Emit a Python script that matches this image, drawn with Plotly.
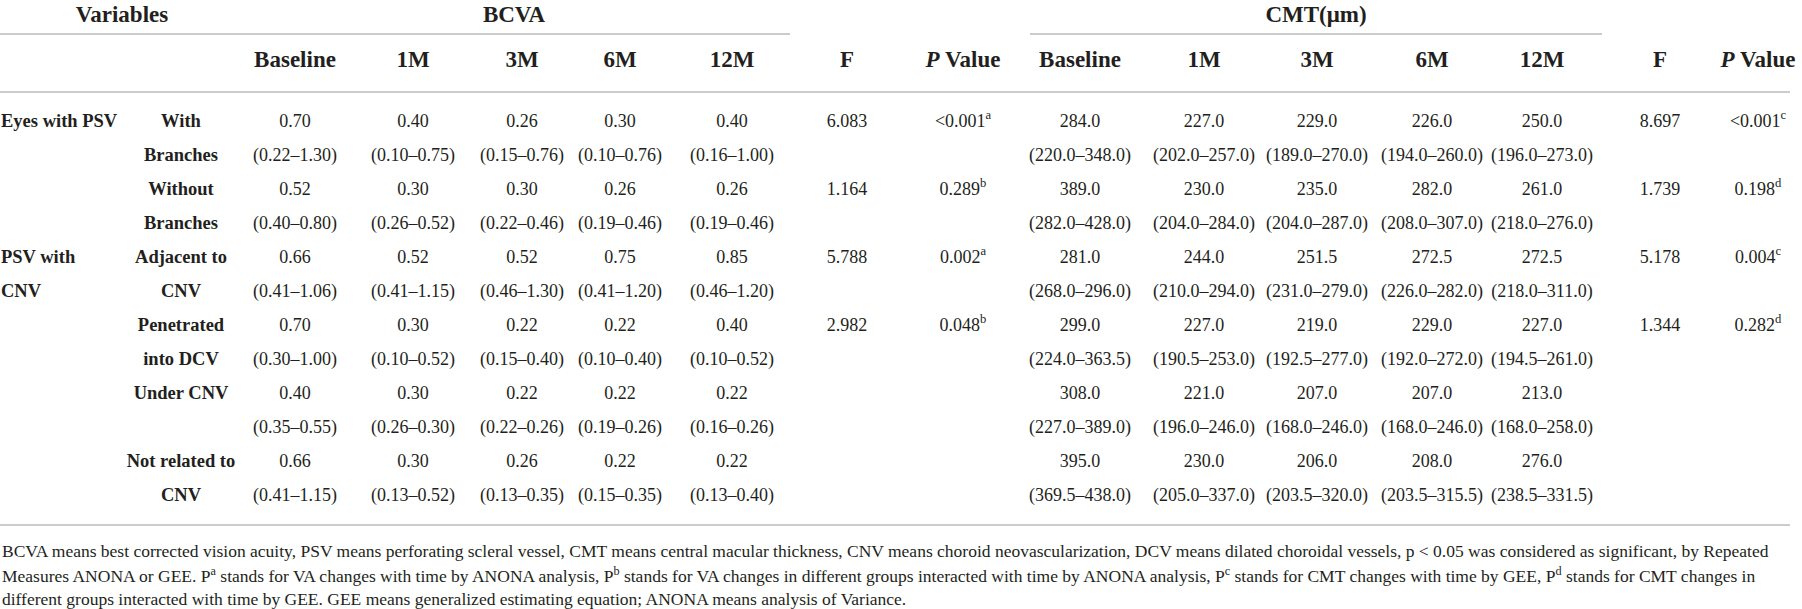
import plotly.graph_objects as go

# table content
timepoints = ["Baseline", "1M", "3M", "6M", "12M"]
group_labels = ["Eyes with PSV", "PSV with", "CNV"]
group_lines = [0, 4, 5]          # body line each group label sits on
sub_labels = [("With", "Branches"), ("Without", "Branches"), ("Adjacent to", "CNV"),
              ("Penetrated", "into DCV"), ("Under CNV", ""), ("Not related to", "CNV")]

bcva_median = [[0.70, 0.40, 0.26, 0.30, 0.40],
               [0.52, 0.30, 0.30, 0.26, 0.26],
               [0.66, 0.52, 0.52, 0.75, 0.85],
               [0.70, 0.30, 0.22, 0.22, 0.40],
               [0.40, 0.30, 0.22, 0.22, 0.22],
               [0.66, 0.30, 0.26, 0.22, 0.22]]
bcva_low = [[0.22, 0.10, 0.15, 0.10, 0.16],
            [0.40, 0.26, 0.22, 0.19, 0.19],
            [0.41, 0.41, 0.46, 0.41, 0.46],
            [0.30, 0.10, 0.15, 0.10, 0.10],
            [0.35, 0.26, 0.22, 0.19, 0.16],
            [0.41, 0.13, 0.13, 0.15, 0.13]]
bcva_high = [[1.30, 0.75, 0.76, 0.76, 1.00],
             [0.80, 0.52, 0.46, 0.46, 0.46],
             [1.06, 1.15, 1.30, 1.20, 1.20],
             [1.00, 0.52, 0.40, 0.40, 0.52],
             [0.55, 0.30, 0.26, 0.26, 0.26],
             [1.15, 0.52, 0.35, 0.35, 0.40]]
bcva_f = [6.083, 1.164, 5.788, 2.982]
bcva_p = ["<0.001", "0.289", "0.002", "0.048"]
bcva_p_sup = ["a", "b", "a", "b"]

cmt_median = [[284.0, 227.0, 229.0, 226.0, 250.0],
              [389.0, 230.0, 235.0, 282.0, 261.0],
              [281.0, 244.0, 251.5, 272.5, 272.5],
              [299.0, 227.0, 219.0, 229.0, 227.0],
              [308.0, 221.0, 207.0, 207.0, 213.0],
              [395.0, 230.0, 206.0, 208.0, 276.0]]
cmt_low = [[220.0, 202.0, 189.0, 194.0, 196.0],
           [282.0, 204.0, 204.0, 208.0, 218.0],
           [268.0, 210.0, 231.0, 226.0, 218.0],
           [224.0, 190.5, 192.5, 192.0, 194.5],
           [227.0, 196.0, 168.0, 168.0, 168.0],
           [369.5, 205.0, 203.5, 203.5, 238.5]]
cmt_high = [[348.0, 257.0, 270.0, 260.0, 273.0],
            [428.0, 284.0, 287.0, 307.0, 276.0],
            [296.0, 294.0, 279.0, 282.0, 311.0],
            [363.5, 253.0, 277.0, 272.0, 261.0],
            [389.0, 246.0, 246.0, 246.0, 258.0],
            [438.0, 337.0, 320.0, 315.5, 331.5]]
cmt_f = [8.697, 1.739, 5.178, 1.344]
cmt_p = ["<0.001", "0.198", "0.004", "0.282"]
cmt_p_sup = ["c", "d", "c", "d"]

footnote = [
    "BCVA means best corrected vision acuity, PSV means perforating scleral vessel, CMT means central macular thickness, "
    "CNV means choroid neovascularization, DCV means dilated choroidal vessels, p < 0.05 was considered as significant, by Repeated",
    "Measures ANONA or GEE. P<sup>a</sup> stands for VA changes with time by ANONA analysis, P<sup>b</sup> stands for VA changes in "
    "different groups interacted with time by ANONA analysis, P<sup>c</sup> stands for CMT changes with time by GEE, P<sup>d</sup> stands for CMT changes in",
    "different groups interacted with time by GEE. GEE means generalized estimating equation; ANONA means analysis of Variance.",
]

# layout constants
W, H = 1802, 609
FONT = "Liberation Serif"
TXT = "#231f20"
RULE = "#cccccc"
x_bcva = [295, 413, 522, 620, 732]
x_cmt = [1080, 1204, 1317, 1432, 1542]
x_bf, x_bp, x_cf, x_cp = 847, 963, 1660, 1758
x_sub = 181
y_title, y_head = 16, 61
y_body, step = 122, 34


def body_y(line):
    return y_body + step * line


# regular cells
xs, ys, ts = [], [], []
for i in range(len(sub_labels)):
    ym, yr = body_y(2 * i), body_y(2 * i + 1)
    for j in range(5):
        xs += [x_bcva[j], x_bcva[j], x_cmt[j], x_cmt[j]]
        ys += [ym, yr, ym, yr]
        ts += [f"{bcva_median[i][j]:.2f}", f"({bcva_low[i][j]:.2f}–{bcva_high[i][j]:.2f})",
               f"{cmt_median[i][j]:.1f}", f"({cmt_low[i][j]:.1f}–{cmt_high[i][j]:.1f})"]
    if i < len(bcva_f):
        xs += [x_bf, x_bp, x_cf, x_cp]
        ys += [ym] * 4
        ts += [f"{bcva_f[i]:.3f}", f"{bcva_p[i]}<sup>{bcva_p_sup[i]}</sup>",
               f"{cmt_f[i]:.3f}", f"{cmt_p[i]}<sup>{cmt_p_sup[i]}</sup>"]

# bold row labels
lx, ly, lt = [], [], []
for i, pair in enumerate(sub_labels):
    for k, part in enumerate(pair):
        if part:
            lx.append(x_sub)
            ly.append(body_y(2 * i + k))
            lt.append(f"<b>{part}</b>")

# header cells
head_x = x_bcva + [x_bf, x_bp] + x_cmt + [x_cf, x_cp]
head_t = timepoints + ["F", "<i>P</i> Value"] + timepoints + ["F", "<i>P</i> Value"]
hx = head_x + [122, 514, 1316]
hy = [y_head] * len(head_x) + [y_title] * 3
ht = [f"<b>{t}</b>" for t in head_t] + ["<b>Variables</b>", "<b>BCVA</b>", "<b>CMT(μm)</b>"]

fig = go.Figure()
fig.add_trace(go.Scatter(x=xs, y=ys, text=ts, mode="text", textposition="middle center",
                         textfont=dict(family=FONT, size=18, color=TXT), hoverinfo="skip"))
fig.add_trace(go.Scatter(x=lx, y=ly, text=lt, mode="text", textposition="middle center",
                         textfont=dict(family=FONT, size=18.5, color=TXT), hoverinfo="skip"))
fig.add_trace(go.Scatter(x=hx, y=hy, text=ht, mode="text", textposition="middle center",
                         textfont=dict(family=FONT, size=23, color=TXT), hoverinfo="skip"))
# group labels, left aligned
fig.add_trace(go.Scatter(x=[1] * len(group_labels), y=[body_y(r) for r in group_lines],
                         text=[f"<b>{g}</b>" for g in group_labels],
                         mode="text", textposition="middle right",
                         textfont=dict(family=FONT, size=18.5, color=TXT), hoverinfo="skip"))

# rules
rules = [(0, 790, 34), (1030, 1602, 34), (0, 1790, 92), (0, 1790, 525)]
for x0, x1, y in rules:
    fig.add_shape(type="line", x0=x0, x1=x1, y0=y, y1=y, xref="x", yref="y",
                  line=dict(color=RULE, width=2))

for k, line in enumerate(footnote):
    fig.add_annotation(x=0, y=551 + 24 * k, xref="x", yref="y", text=line, showarrow=False,
                       xanchor="left", yanchor="middle",
                       font=dict(family=FONT, size=17.5, color=TXT))

fig.update_xaxes(range=[0, W], visible=False, fixedrange=True)
fig.update_yaxes(range=[H, 0], visible=False, fixedrange=True)
fig.update_layout(width=W, height=H, margin=dict(l=0, r=0, t=0, b=0),
                  plot_bgcolor="white", paper_bgcolor="white", showlegend=False)

# page body has a default 8px margin, drop it so the figure sits at the window origin
fig.write_html("out.html", config={"displayModeBar": False},
               post_script="document.body.style.margin='0';document.body.style.overflow='hidden';")
